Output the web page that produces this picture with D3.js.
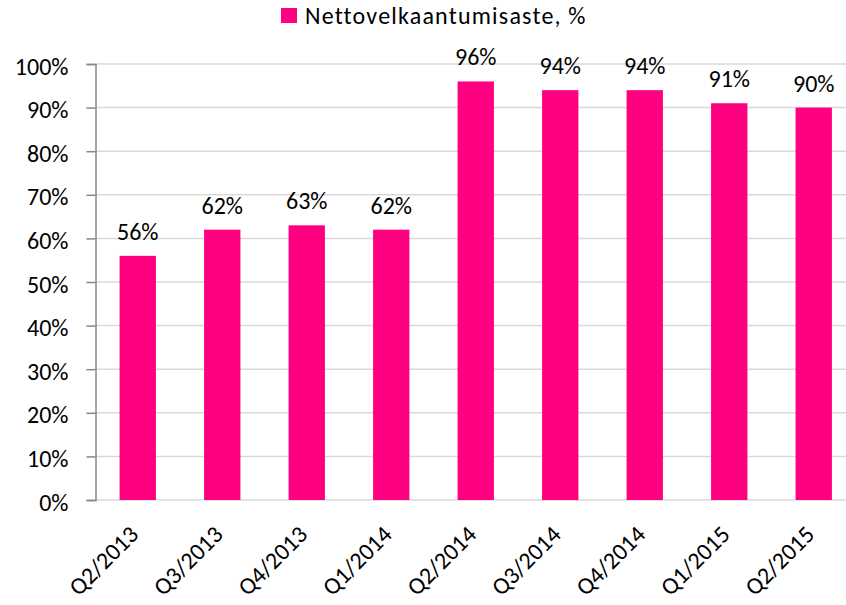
<!DOCTYPE html>
<html><head><meta charset="utf-8">
<script src="https://cdn.jsdelivr.net/npm/d3@7"></script>
<style>body{margin:0;background:#fff}svg{display:block}text{font-family:Carlito,Calibri,Lato,sans-serif;fill:#000}</style>
</head><body><svg id="c" width="846" height="605"></svg>
<script>
const categories = ["Q2/2013","Q3/2013","Q4/2013","Q1/2014","Q2/2014","Q3/2014","Q4/2014","Q1/2015","Q2/2015"];
const values = [56, 62, 63, 62, 96, 94, 94, 91, 90];
const yTicks = [0,10,20,30,40,50,60,70,80,90,100];
const seriesName = "Nettovelkaantumisaste, %";
const color = "#ff0080";

const svg = d3.select("#c");
const x0 = 95.5, step = 84.5;
const x = d3.scaleBand().domain(categories).range([x0, x0 + step*categories.length]).paddingInner(0.57).paddingOuter(0.285);
const y = d3.scaleLinear().domain([0,100]).range([500, 64]);

// gridlines
svg.append("g").selectAll("line").data(yTicks).join("line")
  .attr("x1", x0).attr("x2", 846)
  .attr("y1", d => y(d)).attr("y2", d => y(d))
  .attr("stroke", "#d9d9d9").attr("stroke-width", 1.5);

// y axis
const yAxis = d3.axisLeft(y).tickValues(yTicks).tickFormat(d => d + "%").tickSize(9).tickPadding(18);
const ga = svg.append("g").attr("transform", `translate(${x0},0)`).call(yAxis);
ga.select(".domain").attr("stroke", "#868686").attr("stroke-width", 1.5);
ga.selectAll(".tick line").attr("stroke", "#868686").attr("stroke-width", 1.5);
ga.selectAll(".tick text").attr("font-size", 24).attr("font-family", "Carlito,Calibri,Lato,sans-serif").attr("fill", "#000").attr("dy", "0.42em");

// bars
svg.append("g").selectAll("rect").data(values).join("rect")
  .attr("x", (d,i) => x(categories[i])).attr("width", x.bandwidth())
  .attr("y", d => y(d)).attr("height", d => y(0) - y(d))
  .attr("fill", color);

// data labels
svg.append("g").selectAll("text").data(values).join("text")
  .attr("x", (d,i) => x(categories[i]) + x.bandwidth()/2)
  .attr("y", d => y(d) - 16)
  .attr("text-anchor", "middle").attr("font-size", 24)
  .text(d => d + "%");

// x labels
svg.append("g").selectAll("text").data(categories).join("text")
  .attr("transform", d => `translate(${x(d) + x.bandwidth()/2 + 2},${536}) rotate(-45)`)
  .attr("text-anchor", "end").attr("font-size", 24)
  .text(d => d);

// legend
const lg = svg.append("g");
lg.append("rect").attr("x", 281).attr("y", 8).attr("width", 16).attr("height", 15).attr("fill", color);
lg.append("text").attr("x", 305).attr("y", 24).attr("font-size", 24).attr("letter-spacing", 1.2).text(seriesName);
</script></body></html>
